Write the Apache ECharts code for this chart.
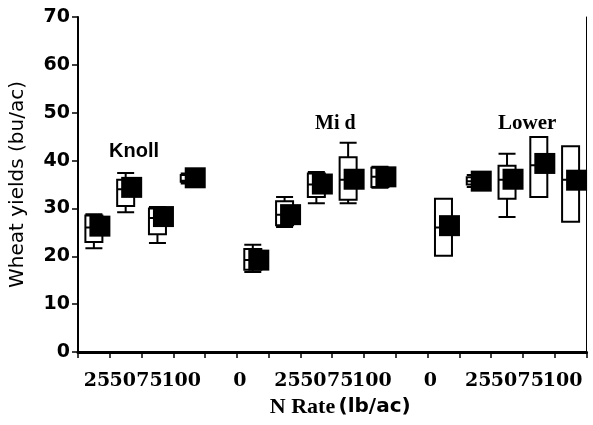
<!DOCTYPE html>
<html>
<head>
<meta charset="utf-8">
<script src="https://cdn.jsdelivr.net/npm/echarts@6/dist/echarts.min.js"></script>
<style>
  html, body { margin: 0; padding: 0; background: #fff; }
  #chart { width: 593px; height: 425px; }
</style>
</head>
<body>
<div id="chart"></div>
<script>
// N rate categories along the x axis (blank slots separate the landscape positions)
const rateLabels = ['25', '50', '75', '100', '', '0', '25', '50', '75', '100', '', '0', '25', '50', '75', '100'];

// Wheat yield boxes per landscape position: [min, Q1, median, Q3, max] (bu/ac)
const knollBoxes = [
  [21.7, 23.0, 26.0, 28.5, 28.8],
  [29.2, 30.5, 34.0, 36.0, 37.4],
  [22.8, 24.6, 28.0, 30.0, 30.3],
  [35.2, 35.6, 35.8, 37.0, 37.3]
];
const midBoxes = [
  [16.7, 17.2, 19.2, 21.5, 22.4],
  [26.1, 26.5, 28.7, 31.5, 32.4],
  [31.1, 32.4, 35.0, 37.3, 37.6],
  [31.1, 31.8, 36.0, 40.7, 43.7],
  [34.3, 34.5, 36.6, 38.5, 38.7]
];
const lowerBoxes = [
  [20.1, 20.1, 26.0, 32.0, 32.0],
  [34.5, 35.0, 35.7, 36.5, 37.0],
  [28.2, 32.0, 36.0, 38.9, 41.4],
  [32.4, 32.4, 39.0, 44.9, 44.9],
  [27.2, 27.2, 36.0, 43.0, 43.0]
];
// Mean yields (filled squares)
const knollMeans = [26.3, 34.4, 28.3, 36.4];
const midMeans = [19.2, 28.7, 35.1, 36.1, 36.6];
const lowerMeans = [26.4, 35.7, 36.1, 39.4, 35.9];
// Empty separator slot sits on the zero line
const gapBox = [0, 0, 0, 0, 0];

const groupNames = ['Knoll', 'Mi d', 'Lower'];

const boxData = [...knollBoxes, gapBox, ...midBoxes, gapBox, ...lowerBoxes];
const meanData = [...knollMeans, '-', ...midMeans, '-', ...lowerMeans];

// horizontal nudge (px) of each rate label so the numbers pack together;
// done with an invisible spacer token on one side of the number
const labelShift = { '25': 3, '50': -3, '75': -8, '100': -8, '0': -13 };
const richStyles = {
  t: { fontFamily: 'DejaVu Serif', fontWeight: 'bold', fontSize: 19, color: '#000' }
};
Object.keys(labelShift).forEach(function (k) {
  richStyles['s' + k] = { width: 2 * Math.abs(labelShift[k]), height: 1 };
});
function rateLabel(v) {
  if (v === '') return '';
  const s = labelShift[v] || 0;
  if (s > 0) return '{s' + v + '|}{t|' + v + '}';
  if (s < 0) return '{t|' + v + '}{s' + v + '|}';
  return '{t|' + v + '}';
}

const chart = echarts.init(document.getElementById('chart'), null, { renderer: 'canvas' });

const option = {
  animation: false,
  backgroundColor: '#fff',
  grid: { left: 70, right: 1, top: 17, bottom: 73, containLabel: false },
  xAxis: [
    {
      type: 'category',
      data: rateLabels,
      position: 'bottom',
      axisLine: { lineStyle: { color: '#000', width: 2 } },
      axisTick: { show: true, length: 6, lineStyle: { color: '#000', width: 1.5 } },
      axisLabel: {
        interval: 0,
        margin: 20,
        formatter: rateLabel,
        rich: richStyles
      },
      splitLine: { show: false },
      name: '{a|N Rate} {b|(lb/ac)}',
      nameLocation: 'middle',
      nameGap: 42,
      nameTextStyle: {
        padding: [0, 0, 0, 16],
        rich: {
          a: { fontFamily: 'Liberation Serif', fontWeight: 'bold', fontSize: 22, color: '#000' },
          b: { fontFamily: 'DejaVu Sans', fontWeight: 'bold', fontSize: 20, color: '#000' }
        }
      }
    },
    {
      type: 'category',
      data: rateLabels,
      position: 'top',
      axisLine: { lineStyle: { color: '#000', width: 3 } },
      axisTick: { show: false },
      axisLabel: { show: false }
    }
  ],
  yAxis: [
    {
      type: 'value',
      min: 0,
      max: 70,
      interval: 10,
      axisLine: { show: true, lineStyle: { color: '#000', width: 2 } },
      axisTick: { show: true, length: 6, lineStyle: { color: '#000', width: 1.5 } },
      axisLabel: {
        margin: 8,
        fontFamily: 'DejaVu Sans',
        fontWeight: 'bold',
        fontSize: 19,
        color: '#000'
      },
      splitLine: { show: false },
      name: 'Wheat yields (bu/ac)',
      nameLocation: 'middle',
      nameGap: 50,
      nameTextStyle: { fontFamily: 'DejaVu Sans', fontSize: 20, color: '#000' }
    },
    {
      type: 'value',
      min: 0,
      max: 70,
      interval: 10,
      position: 'right',
      axisLine: { show: true, lineStyle: { color: '#000', width: 1 } },
      axisTick: { show: false },
      axisLabel: { show: false },
      splitLine: { show: false }
    }
  ],
  series: [
    {
      name: 'Yield range',
      type: 'boxplot',
      data: boxData,
      boxWidth: [17, 17],
      itemStyle: { color: '#fff', borderColor: '#000', borderWidth: 2 },
      z: 2
    },
    {
      name: 'Mean yield',
      type: 'scatter',
      data: meanData,
      symbol: 'rect',
      symbolSize: 21,
      symbolOffset: [6, 0],
      itemStyle: { color: '#000', opacity: 1 },
      z: 3
    }
  ],
  graphic: [
    { type: 'text', left: 109, top: 141, style: { text: groupNames[0], font: 'bold 20px "Liberation Sans"', fill: '#000' } },
    { type: 'text', left: 315, top: 114, style: { text: groupNames[1], font: 'bold 20px "Liberation Serif"', fill: '#000' } },
    { type: 'text', left: 498, top: 113, style: { text: groupNames[2], font: 'bold 21px "Liberation Serif"', fill: '#000' } }
  ]
};

chart.setOption(option);
</script>
</body>
</html>
